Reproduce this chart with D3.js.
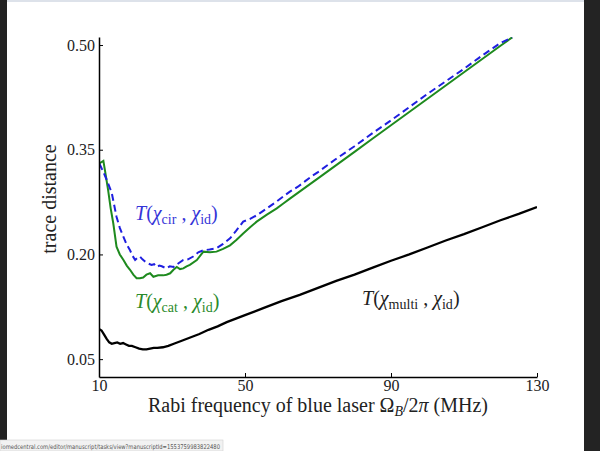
<!DOCTYPE html>
<html>
<head>
<meta charset="utf-8">
<script src="https://cdn.jsdelivr.net/npm/d3@7"></script>
<style>
  body { margin: 0; background: #fff; }
  svg { display: block; }
</style>
</head>
<body>
<svg id="chart" width="600" height="451"></svg>
<script>
// rabi frequency (MHz) vs trace distance
var xTicks = [10, 50, 90, 130];
var yTicks = [0.05, 0.20, 0.35, 0.50];

var cirSeries = [
  [10, 0.330], [10.3, 0.328], [11.2, 0.318], [12.1, 0.307], [13.5, 0.288], [14.8, 0.254],
  [15.7, 0.238], [16.7, 0.225], [17.6, 0.214], [18.5, 0.206], [19.2, 0.198], [19.9, 0.192],
  [20.5, 0.195], [21.2, 0.197], [21.9, 0.193], [22.6, 0.190], [23.5, 0.187], [24.4, 0.185],
  [25.1, 0.186], [25.8, 0.182], [26.5, 0.184], [27.2, 0.183], [28.5, 0.180], [29.4, 0.183],
  [30.4, 0.182], [31.7, 0.187], [33.1, 0.192], [34.4, 0.193], [35.8, 0.197], [37.2, 0.203],
  [38.6, 0.206], [40.3, 0.207], [42.2, 0.209], [44.0, 0.215], [45.9, 0.223], [47.6, 0.234],
  [49.5, 0.247], [51.4, 0.251], [53.2, 0.256], [56.0, 0.266], [58.7, 0.276], [60.5, 0.283],
  [62.3, 0.290], [64.5, 0.297], [66.5, 0.305], [68.5, 0.313], [70, 0.318], [75, 0.337],
  [80, 0.355], [85, 0.374], [90, 0.392], [95, 0.411], [100, 0.430], [105, 0.448],
  [110, 0.466], [115, 0.485], [120, 0.503], [123.2, 0.511]
];

var catSeries = [
  [10, 0.329], [10.3, 0.331], [11.2, 0.334], [11.8, 0.315], [12.5, 0.292], [13.2, 0.266],
  [13.9, 0.245], [14.8, 0.211], [15.7, 0.200], [16.7, 0.192], [17.6, 0.184], [18.5, 0.178],
  [19.4, 0.171], [20.3, 0.166], [21.2, 0.166], [22.1, 0.167], [23.0, 0.171], [24.0, 0.173],
  [24.9, 0.168], [26.2, 0.170], [27.6, 0.170], [28.5, 0.171], [29.5, 0.173], [30.4, 0.178],
  [31.3, 0.182], [32.2, 0.179], [33.1, 0.180], [34.0, 0.183], [34.9, 0.185], [36.8, 0.192],
  [38.6, 0.204], [40.4, 0.203], [42.2, 0.204], [44.0, 0.208], [45.9, 0.213], [47.7, 0.221],
  [49.5, 0.230], [51.4, 0.239], [53.2, 0.247], [56.0, 0.257], [58.7, 0.266], [60.5, 0.273],
  [62.3, 0.280], [66, 0.294], [70, 0.309], [75, 0.328], [80, 0.347], [85, 0.366],
  [90, 0.385], [95, 0.404], [100, 0.423], [105, 0.442], [110, 0.461], [115, 0.480],
  [120, 0.499], [123.2, 0.511]
];

var multiSeries = [
  [10, 0.093], [10.7, 0.091], [11.4, 0.085], [12.1, 0.079], [12.8, 0.074], [13.5, 0.072],
  [14.2, 0.073], [15.0, 0.074], [15.8, 0.072], [16.6, 0.073], [17.4, 0.071], [18.2, 0.069],
  [19.0, 0.069], [20.0, 0.067], [21.0, 0.065], [22.0, 0.064], [23.0, 0.064], [24.0, 0.065],
  [25.0, 0.066], [26.0, 0.066], [27.5, 0.067], [29.0, 0.069], [30.5, 0.072], [32.5, 0.076],
  [35, 0.081], [37.5, 0.086], [40, 0.092], [42.5, 0.097], [45, 0.103], [47.5, 0.108],
  [50, 0.113], [55, 0.123], [60, 0.133], [65, 0.142], [70, 0.152], [75, 0.162],
  [80, 0.171], [85, 0.181], [90, 0.191], [95, 0.200], [100, 0.210], [105, 0.220],
  [110, 0.229], [115, 0.239], [120, 0.249], [125, 0.258], [130, 0.268]
];

var svg = d3.select("#chart");

// screenshot frame
svg.append("rect").attr("x", 0).attr("y", 0).attr("width", 600).attr("height", 451).attr("fill", "#fff");
svg.append("rect").attr("x", 7).attr("y", 0).attr("width", 577).attr("height", 2).attr("fill", "#dde2ea");
svg.append("rect").attr("x", 0).attr("y", 0).attr("width", 7).attr("height", 440).attr("fill", "#222");
svg.append("rect").attr("x", 584).attr("y", 0).attr("width", 16).attr("height", 451).attr("fill", "#232323");

var x = d3.scaleLinear().domain([10, 130]).range([99, 537]);
var y = d3.scaleLinear().domain([0.0244, 0.5115]).range([377, 37]);

svg.append("clipPath").attr("id", "plotclip")
  .append("rect")
  .attr("x", x.range()[0]).attr("y", y.range()[1])
  .attr("width", x.range()[1] - x.range()[0])
  .attr("height", y.range()[0] - y.range()[1]);

var line = d3.line()
  .x(function (d) { return x(d[0]); })
  .y(function (d) { return y(d[1]); });

var plot = svg.append("g").attr("clip-path", "url(#plotclip)");

plot.append("path").datum(multiSeries)
  .attr("d", line).attr("fill", "none")
  .attr("stroke", "#000").attr("stroke-width", 2.3);

plot.append("path").datum(catSeries)
  .attr("d", line).attr("fill", "none")
  .attr("stroke", "#1e8a1e").attr("stroke-width", 2);

plot.append("path").datum(cirSeries)
  .attr("d", line).attr("fill", "none")
  .attr("stroke", "#1f1fe0").attr("stroke-width", 2)
  .attr("stroke-dasharray", "7,4");

// axes, ticks pointing inward
var xAxis = svg.append("g")
  .attr("transform", "translate(0," + y.range()[0] + ")")
  .call(d3.axisBottom(x).tickValues(xTicks).tickSize(-4).tickSizeOuter(0).tickPadding(3)
    .tickFormat(d3.format("d")));

var yAxis = svg.append("g")
  .attr("transform", "translate(" + x.range()[0] + ",0)")
  .call(d3.axisLeft(y).tickValues(yTicks).tickSize(-4).tickSizeOuter(0).tickPadding(4)
    .tickFormat(d3.format(".2f")));

[xAxis, yAxis].forEach(function (a) {
  a.select(".domain").attr("stroke", "#000").attr("stroke-width", 1.5);
  a.selectAll(".tick line").attr("stroke", "#000").attr("stroke-width", 1);
  a.selectAll(".tick text")
    .attr("fill", "#222")
    .style("font-family", "'Liberation Serif', serif")
    .style("font-size", "16px");
});

// axis titles
svg.append("text")
  .attr("x", 318).attr("y", 412)
  .attr("text-anchor", "middle")
  .style("font-family", "'Liberation Serif', serif")
  .style("font-size", "20px")
  .attr("fill", "#222")
  .call(function (t) {
    t.append("tspan").text("Rabi frequency of blue laser Ω");
    t.append("tspan").attr("font-style", "italic").attr("font-size", "14px").attr("dy", 4).text("B");
    t.append("tspan").attr("dy", -4).text("/2");
    t.append("tspan").attr("font-style", "italic").text("π");
    t.append("tspan").text(" (MHz)");
  });

svg.append("text")
  .attr("transform", "translate(56,199) rotate(-90)")
  .attr("text-anchor", "middle")
  .style("font-family", "'Liberation Serif', serif")
  .style("font-size", "20px")
  .attr("fill", "#222")
  .text("trace distance");

// curve labels
function curveLabel(px, py, sub, color) {
  var t = svg.append("text")
    .attr("x", px).attr("y", py)
    .style("font-family", "'Liberation Serif', serif")
    .style("font-size", "20px")
    .attr("fill", color);
  t.append("tspan").attr("font-style", "italic").text("T");
  t.append("tspan").text("(");
  t.append("tspan").attr("font-style", "italic").text("χ");
  t.append("tspan").attr("font-size", "14px").attr("dy", 4).text(sub);
  t.append("tspan").attr("dy", -4).text(" , ");
  t.append("tspan").attr("font-style", "italic").text("χ");
  t.append("tspan").attr("font-size", "14px").attr("dy", 4).text("id");
  t.append("tspan").attr("dy", -4).text(")");
}
curveLabel(135, 220, "cir", "#3535d8");
curveLabel(135, 308, "cat", "#2a8a2a");
curveLabel(362, 305, "multi", "#222");

// browser status bar
svg.append("rect").attr("x", 0).attr("y", 440).attr("width", 223).attr("height", 11)
  .attr("fill", "#f2f2f2").attr("stroke", "#cfcfcf").attr("stroke-width", 0.6);
svg.append("text")
  .attr("x", 1).attr("y", 448.5)
  .attr("textLength", 219).attr("lengthAdjust", "spacingAndGlyphs")
  .style("font-family", "'DejaVu Sans', sans-serif")
  .style("font-size", "6.4px")
  .attr("fill", "#555")
  .text("iomedcentral.com/editor/manuscript/tasks/view?manuscriptId=1553759983822480");
</script>
</body>
</html>
